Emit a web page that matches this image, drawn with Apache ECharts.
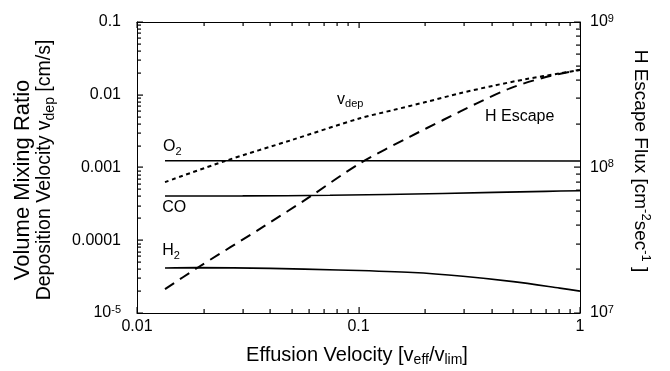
<!DOCTYPE html>
<html><head><meta charset="utf-8">
<script src="https://cdn.jsdelivr.net/npm/echarts@6/dist/echarts.min.js"></script>
<style>html,body{margin:0;padding:0;background:#fff}#c{width:670px;height:371px}</style>
</head><body><div id="c"></div>
<script>
// ---------------- data ----------------
const xTickLabels = ['0.01', '0.1', '1'];
const leftTickLabels = ['10^-5', '0.0001', '0.001', '0.01', '0.1'];
const rightTickLabels = ['10^7', '10^8', '10^9'];

const o2X = [0.01338, 0.1, 1];
const o2Y = [1.24e-3, 1.24e-3, 1.23e-3];

const coX = [0.01338, 0.03, 0.0743, 0.24, 0.7, 1];
const coY = [4.06e-4, 4.07e-4, 4.15e-4, 4.4e-4, 4.7e-4, 4.8e-4];

const h2X = [0.01338, 0.0186, 0.04, 0.081, 0.176, 0.296, 0.5, 0.81, 1];
const h2Y = [4.15e-5, 4.2e-5, 4.1e-5, 3.9e-5, 3.6e-5, 3.2e-5, 2.7e-5, 2.2e-5, 2.0e-5];

const vdepX = [0.01338, 0.025, 0.05, 0.1016, 0.1436, 0.203, 0.287, 0.406, 0.574, 0.812, 1];
const vdepY = [6.3e-4, 1.23e-3, 2.39e-3, 4.75e-3, 6.17e-3, 8.0e-3, 1.047e-2, 1.33e-2, 1.646e-2, 1.97e-2, 2.19e-2];

const hescX = [0.01338, 0.0186, 0.0372, 0.0604, 0.1016, 0.171, 0.241, 0.342, 0.483, 0.683, 1];
const hescY = [1.46e7, 2.03e7, 3.92e7, 6.3e7, 1.07e8, 1.63e8, 2.12e8, 2.76e8, 3.5e8, 4.14e8, 4.7e8];

// --------------- helpers ---------------
const FONT = '"Liberation Sans", Arial, Helvetica, sans-serif';
const black = '#000';
const X_MIN = 0.01, X_MAX = 1, YL_MIN = 1e-5, YL_MAX = 0.1, YR_MIN = 1e7, YR_MAX = 1e9;
const MAJOR = 6, MINOR = 4;
const zip = (xs, ys) => xs.map((x, i) => [x, ys[i]]);
function supFmt(s) {
  const p = s.split('^');
  return p.length > 1 ? p[0] + '{s|' + p[1] + '}' : s;
}
function makeFmt(labels, minExp) {
  return v => {
    const i = Math.round(Math.log10(v)) - minExp;
    return labels[i] !== undefined ? supFmt(labels[i]) : '';
  };
}
function logTicks(min, max) {
  const out = [];
  const e0 = Math.round(Math.log10(min)), e1 = Math.round(Math.log10(max));
  for (let e = e0; e <= e1; e++) {
    out.push({ v: Math.pow(10, e), major: true });
    if (e < e1) for (let k = 2; k <= 9; k++) out.push({ v: k * Math.pow(10, e), major: false });
  }
  return out;
}
const labelRich = () => ({ s: { fontSize: 11, fontFamily: FONT, color: black, verticalAlign: 'top', lineHeight: 8 } });
const logAxis = (extra) => Object.assign({
  type: 'log', axisLine: { show: true, lineStyle: { color: black } },
  axisTick: { show: false }, minorTick: { show: false }, splitLine: { show: false }
}, extra);

const chart = echarts.init(document.getElementById('c'));

chart.setOption({
  animation: false,
  grid: { left: 137, right: 90, top: 22, bottom: 58 },
  xAxis: [
    logAxis({ min: X_MIN, max: X_MAX, position: 'bottom',
      axisLabel: { fontSize: 16, color: black, fontFamily: FONT, margin: 5, lineHeight: 18, rich: labelRich(),
        formatter: makeFmt(xTickLabels, -2) } }),
    logAxis({ min: X_MIN, max: X_MAX, position: 'top', axisLabel: { show: false } })
  ],
  yAxis: [
    logAxis({ min: YL_MIN, max: YL_MAX, position: 'left',
      axisLabel: { fontSize: 16, color: black, fontFamily: FONT, margin: 16, lineHeight: 18, rich: labelRich(),
        formatter: makeFmt(leftTickLabels, -5) } }),
    logAxis({ min: YR_MIN, max: YR_MAX, position: 'right',
      axisLabel: { fontSize: 16, color: black, fontFamily: FONT, margin: 10, lineHeight: 18, rich: labelRich(),
        formatter: makeFmt(rightTickLabels, 7) } })
  ],
  series: [
    { name: 'O2', type: 'line', xAxisIndex: 0, yAxisIndex: 0, data: zip(o2X, o2Y), showSymbol: false,
      lineStyle: { color: black, width: 1.6 } },
    { name: 'CO', type: 'line', xAxisIndex: 0, yAxisIndex: 0, data: zip(coX, coY), showSymbol: false, smooth: 0.3,
      lineStyle: { color: black, width: 1.6 } },
    { name: 'H2', type: 'line', xAxisIndex: 0, yAxisIndex: 0, data: zip(h2X, h2Y), showSymbol: false, smooth: 0.3,
      lineStyle: { color: black, width: 1.6 } },
    { name: 'vdep', type: 'line', xAxisIndex: 0, yAxisIndex: 0, data: zip(vdepX, vdepY), showSymbol: false, smooth: 0.3,
      lineStyle: { color: black, width: 2, type: [4, 3.5] } },
    { name: 'H Escape', type: 'line', xAxisIndex: 0, yAxisIndex: 1, data: zip(hescX, hescY), showSymbol: false, smooth: 0.3,
      lineStyle: { color: black, width: 2, type: [11, 7] } }
  ]
});

const graphics = [];

// tick marks drawn as thin filled rectangles, positioned through the axes' scales
function addTick(yIdx, xv, yv, vertical, len) {
  const p = chart.convertToPixel({ xAxisIndex: 0, yAxisIndex: yIdx }, [xv, yv]);
  if (!p) return;
  let shape;
  if (vertical) {
    const x = Math.round(p[0]) - 0.5;
    shape = len < 0 ? { x: x, y: p[1] + len, width: 1.2, height: -len } : { x: x, y: p[1], width: 1.2, height: len };
  } else {
    const y = Math.round(p[1]) - 0.5;
    shape = len < 0 ? { x: p[0] + len, y: y, width: -len, height: 1.2 } : { x: p[0], y: y, width: len, height: 1.2 };
  }
  graphics.push({ type: 'rect', silent: true, z: 100, shape: shape, style: { fill: black } });
}
logTicks(X_MIN, X_MAX).forEach(t => {
  const L = t.major ? MAJOR : MINOR;
  addTick(0, t.v, YL_MIN, true, -L);   // bottom edge, pointing up
  addTick(0, t.v, YL_MAX, true, L);    // top edge, pointing down
});
logTicks(YL_MIN, YL_MAX).forEach(t => addTick(0, X_MIN, t.v, false, t.major ? MAJOR : MINOR));
logTicks(YR_MIN, YR_MAX).forEach(t => addTick(1, X_MAX, t.v, false, -(t.major ? MAJOR : MINOR)));

// annotation labels anchored in data coordinates (left-axis units)
const inPlotLabels = [
  { text: 'O{sub|2}', at: [0.0131, 1.91e-3] },
  { text: 'CO', at: [0.013, 2.77e-4] },
  { text: 'H{sub|2}', at: [0.013, 7.1e-5] },
  { text: 'v{sub|dep}', at: [0.080, 8.5e-3] },
  { text: 'H Escape', at: [0.3725, 5.0e-3] }
];
const subRich = { sub: { fontSize: 11, fontFamily: FONT, fill: black, verticalAlign: 'bottom', lineHeight: 6 } };
inPlotLabels.forEach(l => {
  const p = chart.convertToPixel({ xAxisIndex: 0, yAxisIndex: 0 }, l.at);
  graphics.push({ type: 'text', x: p[0], y: p[1], silent: true,
    style: { text: l.text, rich: subRich, fontSize: 16, fontFamily: FONT, fill: black, lineHeight: 20,
      align: 'left', verticalAlign: 'middle' } });
});
const titleRich = {
  sub: { fontSize: 14, fontFamily: FONT, fill: black, verticalAlign: 'bottom', lineHeight: 6 },
  sup: { fontSize: 13, fontFamily: FONT, fill: black, verticalAlign: 'top', lineHeight: 8 }
};
const titleStyle = (text, size) => ({ text, rich: titleRich, fontSize: size, fontFamily: FONT, fill: black,
  lineHeight: 24, align: 'center', verticalAlign: 'middle' });
graphics.push(
  { type: 'text', x: 23, y: 180, rotation: Math.PI / 2, silent: true, style: titleStyle('Volume Mixing Ratio', 22) },
  { type: 'text', x: 45, y: 170, rotation: Math.PI / 2, silent: true, style: titleStyle('Deposition Velocity v{sub|dep} [cm/s]', 19.5) },
  { type: 'text', x: 640, y: 161, rotation: -Math.PI / 2, silent: true, style: titleStyle('H Escape Flux [cm{sup|-2}sec{sup|-1} ]', 19) },
  { type: 'text', x: 357, y: 355, silent: true, style: titleStyle('Effusion Velocity [v{sub|eff}/v{sub|lim}]', 20) }
);
chart.setOption({ graphic: graphics });
</script></body></html>
